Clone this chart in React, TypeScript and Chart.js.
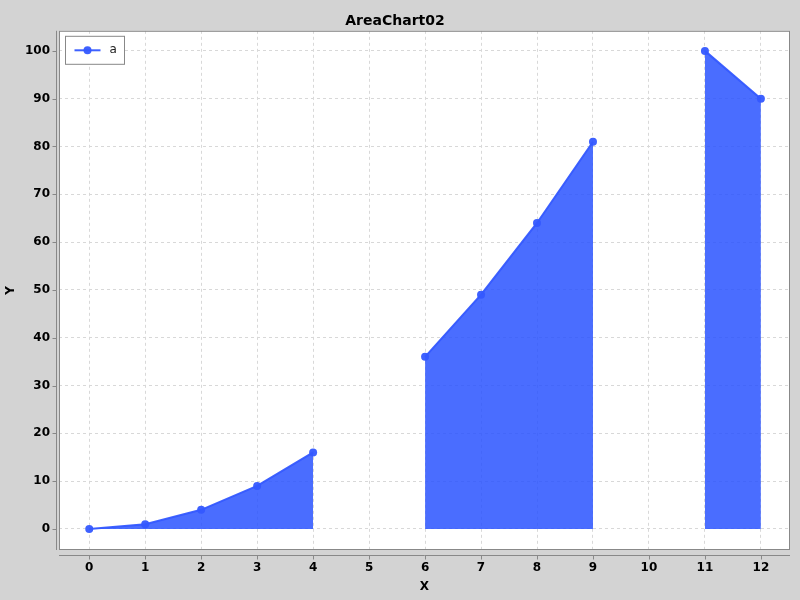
import { useEffect, useRef } from "react";
import { Chart, registerables } from "chart.js";

Chart.register(...registerables);

const xValues = [0, 1, 2, 3, 4, 5, 6, 7, 8, 9, 10, 11, 12];
const aValues: (number | null)[] = [0, 1, 4, 9, 16, null, 36, 49, 64, 81, null, 100, 90];
const seriesName = "a";

const FONT = "'DejaVu Sans', sans-serif";
const LINE_COLOR = "rgba(52, 88, 255, 0.95)";
const FILL_COLOR = "rgba(42, 84, 255, 0.85)";
const AXIS_GRAY = "#888888";

const backdrop = {
  id: "backdrop",
  beforeDraw(chart: Chart) {
    const { ctx, chartArea: a, width, height } = chart;
    ctx.save();
    ctx.fillStyle = "#d3d3d3";
    ctx.fillRect(0, 0, width, height);
    ctx.fillStyle = "#ffffff";
    ctx.fillRect(a.left, a.top, a.right - a.left, a.bottom - a.top);
    ctx.restore();
  },
  afterDraw(chart: Chart) {
    const { ctx, chartArea: a } = chart;
    const xs = chart.scales.x;
    const ys = chart.scales.y;
    ctx.save();
    // plot border
    ctx.strokeStyle = AXIS_GRAY;
    ctx.lineWidth = 1;
    ctx.strokeRect(a.left + 0.5, a.top + 0.5, a.right - a.left - 1, a.bottom - a.top - 1);
    // offset axis lines
    const axX = a.left - 2.5;
    const axY = a.bottom + 5.5;
    ctx.beginPath();
    ctx.moveTo(axX, a.top);
    ctx.lineTo(axX, a.bottom);
    ctx.moveTo(a.left, axY);
    ctx.lineTo(a.right, axY);
    ys.ticks.forEach((t) => {
      const py = Math.round(ys.getPixelForValue(t.value)) + 0.5;
      ctx.moveTo(axX - 4, py);
      ctx.lineTo(axX, py);
    });
    xs.ticks.forEach((t) => {
      const px = Math.round(xs.getPixelForValue(t.value)) + 0.5;
      ctx.moveTo(px, axY);
      ctx.lineTo(px, axY + 4);
    });
    ctx.stroke();

    // legend inside plot
    const lx = a.left + 6.5;
    const ly = a.top + 5.5;
    ctx.fillStyle = "#ffffff";
    ctx.fillRect(lx, ly, 59, 28);
    ctx.strokeStyle = AXIS_GRAY;
    ctx.strokeRect(lx, ly, 59, 28);
    ctx.strokeStyle = LINE_COLOR;
    ctx.lineWidth = 2;
    ctx.beginPath();
    ctx.moveTo(lx + 9, ly + 14);
    ctx.lineTo(lx + 35, ly + 14);
    ctx.stroke();
    ctx.fillStyle = LINE_COLOR;
    ctx.beginPath();
    ctx.arc(lx + 22, ly + 14, 4, 0, Math.PI * 2);
    ctx.fill();
    ctx.fillStyle = "#222222";
    ctx.font = `12px ${FONT}`;
    ctx.textBaseline = "middle";
    ctx.fillText(seriesName, lx + 44, ly + 14);
    ctx.restore();
  },
};

export default function App() {
  const canvasRef = useRef<HTMLCanvasElement | null>(null);

  useEffect(() => {
    document.body.style.margin = "0";
    if (!canvasRef.current) return;
    const chart = new Chart(canvasRef.current, {
      type: "line",
      data: {
        datasets: [
          {
            label: seriesName,
            data: xValues.map((x, i) => ({ x, y: aValues[i] })) as any,
            borderColor: LINE_COLOR,
            backgroundColor: FILL_COLOR,
            borderWidth: 2,
            fill: "origin",
            spanGaps: false,
            tension: 0,
            pointRadius: 4,
            pointBackgroundColor: LINE_COLOR,
            pointBorderWidth: 0,
          },
        ],
      },
      options: {
        animation: false,
        responsive: false,
        layout: { padding: { left: 0, right: 10, top: 0, bottom: 0 } },
        plugins: {
          legend: { display: false },
          tooltip: { enabled: false },
          title: {
            display: true,
            text: "AreaChart02",
            color: "#000000",
            font: { family: FONT, size: 14, weight: "bold" },
            padding: { top: 13, bottom: 1 },
          },
        },
        scales: {
          x: {
            type: "linear",
            min: -0.54,
            max: 12.52,
            ticks: {
              stepSize: 1,
              color: "#000000",
              font: { family: FONT, size: 12, weight: "bold" },
              padding: 11,
              maxRotation: 0,
            },
            afterBuildTicks: (scale: any) => {
              scale.ticks = xValues.map((v) => ({ value: v }));
            },
            afterFit: (scale: any) => {
              scale.height = 50;
            },
            grid: {
              color: "#d8d8d8",
              drawTicks: false,
            },
            border: { display: false, dash: [3, 3] },
            title: {
              display: true,
              text: "X",
              color: "#000000",
              font: { family: FONT, size: 12, weight: "bold" },
              padding: { top: 0, bottom: 6 },
            },
          },
          y: {
            type: "linear",
            min: -4.4,
            max: 104.2,
            ticks: {
              stepSize: 10,
              color: "#000000",
              font: { family: FONT, size: 12, weight: "bold" },
              padding: 9,
            },
            afterBuildTicks: (scale: any) => {
              const t = [];
              for (let v = 0; v <= 100; v += 10) t.push({ value: v });
              scale.ticks = t;
            },
            afterFit: (scale: any) => {
              scale.width = 59;
            },
            grid: {
              color: "#d8d8d8",
              drawTicks: false,
            },
            border: { display: false, dash: [3, 3] },
            title: {
              display: true,
              text: "Y",
              color: "#000000",
              font: { family: FONT, size: 12, weight: "bold" },
              padding: { top: 4, bottom: 0 },
            },
          },
        },
      },
      plugins: [backdrop],
    });
    return () => chart.destroy();
  }, []);

  return (
    <div style={{ width: 800, height: 600 }}>
      <canvas ref={canvasRef} width={800} height={600} />
    </div>
  );
}
